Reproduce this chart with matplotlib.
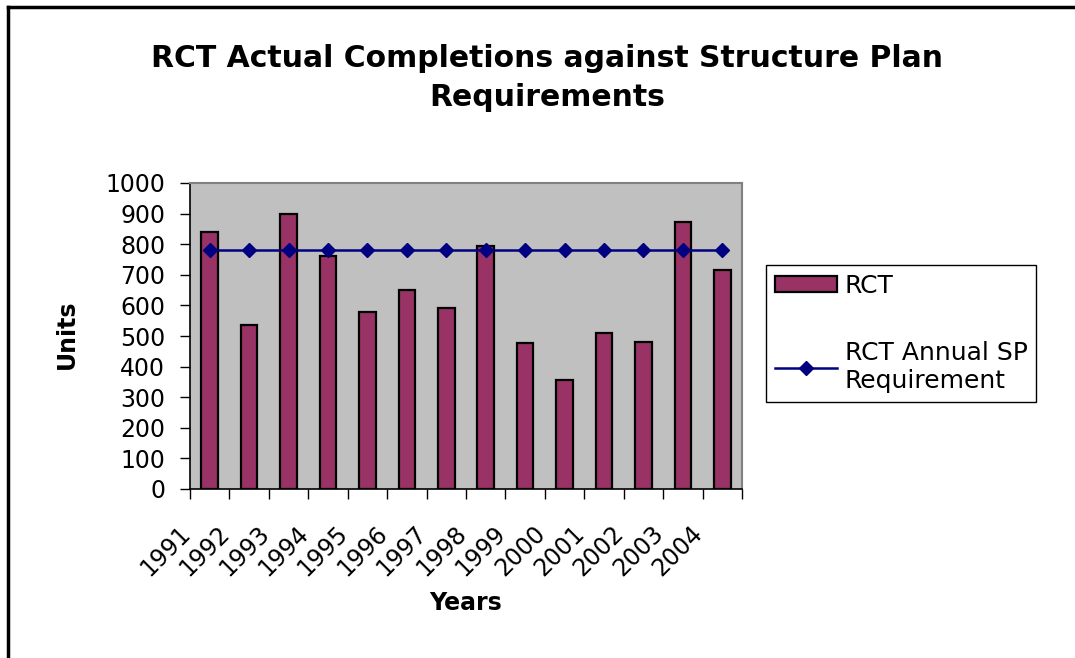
import numpy as np
import matplotlib
matplotlib.use("Agg")
import matplotlib.pyplot as plt
from matplotlib.lines import Line2D
from matplotlib.transforms import ScaledTranslation

# wide DejaVu metrics come closer to the letter-spaced Arial of the original
plt.rcParams['font.family'] = ['DejaVu Sans']

# data
years = ['1991', '1992', '1993', '1994', '1995', '1996', '1997',
         '1998', '1999', '2000', '2001', '2002', '2003', '2004']
completions = [840, 535, 900, 762, 580, 650, 590, 795, 478, 355, 510, 480, 873, 716]
requirement = [780] * len(years)

fig = plt.figure(figsize=(10.75, 6.58), dpi=100)
ax = fig.add_axes([190 / 1075, 1 - 489 / 658, 552 / 1075, 306 / 658])
ax.set_facecolor('#C0C0C0')

x = np.arange(len(years))
bars = ax.bar(x, completions, width=0.42, color='#993366',
              edgecolor='black', linewidth=1.6, label='RCT', zorder=2)
line, = ax.plot(x, requirement, color='#000080', linewidth=1.8,
                marker='D', markersize=6.8, label='RCT Annual SP\nRequirement',
                zorder=3)

ax.set_xlim(-0.5, len(years) - 0.5)
ax.set_ylim(0, 1000)
ax.set_yticks(range(0, 1001, 100))

# ticks sit on category boundaries, labels hang from the left boundary
ax.set_xticks(np.arange(-0.5, len(years)))
ax.set_xticklabels(years + [''], rotation=45, ha='right', va='top',
                   rotation_mode='anchor', fontsize=17)
ax.tick_params(axis='x', direction='out', length=7, width=1, pad=16)
ax.tick_params(axis='y', direction='out', length=7, width=1, pad=11,
               labelsize=17)
shift = ScaledTranslation(-0.12, 0, fig.dpi_scale_trans)
for lbl in ax.get_xticklabels():
    lbl.set_transform(lbl.get_transform() + shift)

for side in ['top', 'right']:
    ax.spines[side].set_color('#808080')
    ax.spines[side].set_linewidth(1.5)
for side in ['left', 'bottom']:
    ax.spines[side].set_color('black')
    ax.spines[side].set_linewidth(1.2)

fig.text(547 / 1075, 1 - 78 / 658,
         'RCT Actual Completions against Structure Plan\nRequirements',
         ha='center', va='center', fontsize=21.5, fontweight='bold',
         linespacing=1.4)
fig.text(67 / 1075, 1 - 334 / 658, 'Units', rotation=90, ha='center',
         va='center', fontsize=17, fontweight='bold')
fig.text(466 / 1075, 1 - 603 / 658, 'Years', ha='center', va='center',
         fontsize=17, fontweight='bold')

leg = fig.legend(handles=[bars, line], loc='upper left',
                 bbox_to_anchor=(766 / 1075, 1 - 265 / 658),
                 borderaxespad=0, fontsize=18, frameon=True, fancybox=False,
                 edgecolor='black', framealpha=1, handlelength=2.5,
                 handleheight=0.62, handletextpad=0.3, labelspacing=1.75,
                 borderpad=0.35)
leg.get_frame().set_linewidth(1.0)

# outer chart frame (left and top edges only are visible)
fig.add_artist(Line2D([8 / 1075, 8 / 1075], [0, 1 - 7 / 658],
                      transform=fig.transFigure, color='black', linewidth=2.5))
fig.add_artist(Line2D([8 / 1075, 1], [1 - 7 / 658, 1 - 7 / 658],
                      transform=fig.transFigure, color='black', linewidth=2.5))

fig.savefig('out.png', dpi=100)
